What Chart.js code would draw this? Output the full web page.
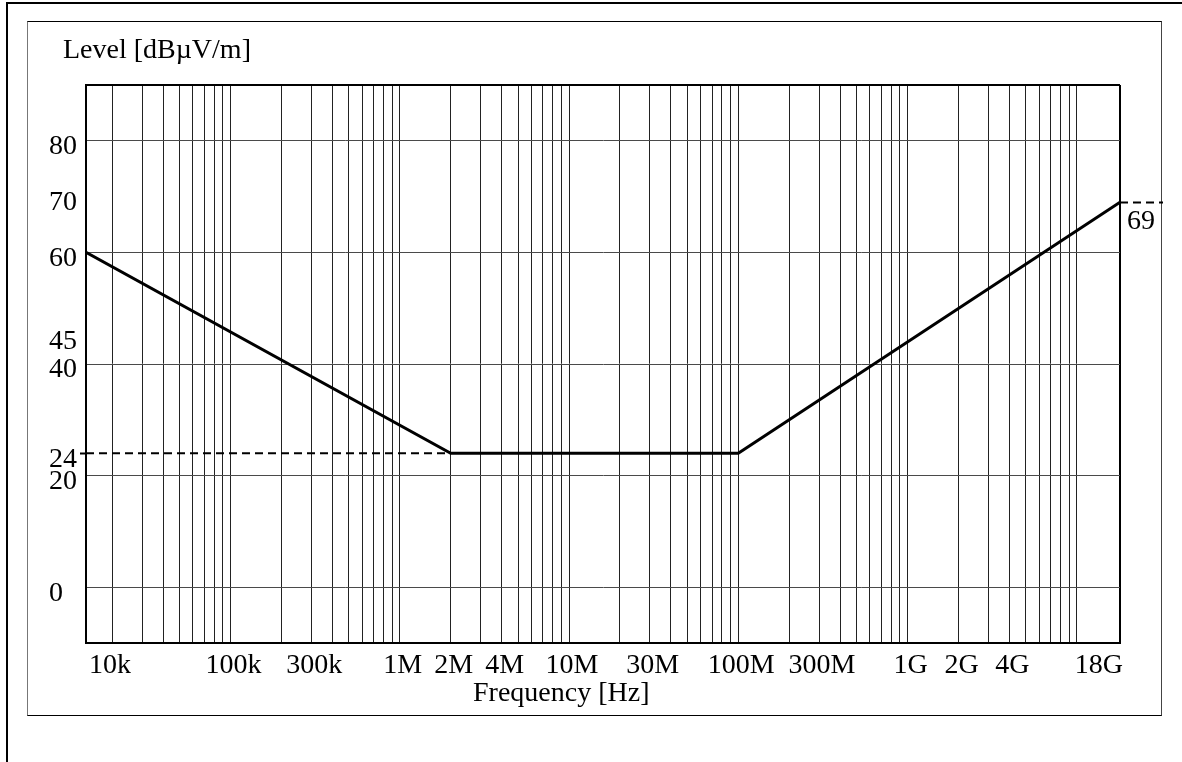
<!DOCTYPE html>
<html>
<head>
<meta charset="utf-8">
<script src="https://cdn.jsdelivr.net/npm/chart.js@4.4.1/dist/chart.umd.min.js"></script>
<style>
  html, body { margin: 0; padding: 0; background: #fff; }
  body { width: 1182px; height: 762px; position: relative; overflow: hidden; }
  #outer { position: absolute; left: 6px; top: 2px; width: 3000px; height: 3000px;
           border-left: 2px solid #000; border-top: 2px solid #000; }
  #inner { position: absolute; left: 27px; top: 21px; width: 1133px; height: 693px;
           border-top: 1px solid #000; border-bottom: 1px solid #000;
           border-left: 1px solid #777; border-right: 1px solid #444; }
  #wrap { position: absolute; left: 0; top: 0; width: 1182px; height: 762px; }
</style>
</head>
<body>
<div id="outer"></div>
<div id="inner"></div>
<div id="wrap"><canvas id="c" width="1182" height="762"></canvas></div>
<script>
// ---- data ----
// limit line vertices (frequency in Hz, level in dBµV/m)
const freqs  = [14e3, 2e6, 1e8, 18e9];
const levels = [60, 24, 24, 69];
// dashed leader at 24 dBµV/m (left edge to 2 MHz)
const leaderFreqs  = [14e3, 2e6];
const leaderLevels = [24, 24];

const xRange = [14e3, 18e9];
const yRange = [-10, 90];

// x tick labels and their positions
const xTickValues = [14e3, 1e5, 3e5, 1e6, 2e6, 4e6, 1e7, 3e7, 1e8, 3e8, 1e9, 2e9, 4e9, 18e9];
const xTickLabels = ['10k', '100k', '300k', '1M', '2M', '4M', '10M', '30M', '100M', '300M', '1G', '2G', '4G', '18G'];

// y tick labels
const yTickValues = [80, 70, 60, 45, 40, 24, 20, 0];
const yTickLabels = ['80', '70', '60', '45', '40', '24', '20', '0'];
// horizontal gridlines
const yGridValues = [0, 20, 40, 60, 80];

// right-hand annotation
const rightTickValues = [69];
const rightTickLabels = ['69'];

const yTitle = 'Level [dBµV/m]';
const xTitle = 'Frequency [Hz]';

// ---- chart ----
const FONT = "'Liberation Serif', 'Times New Roman', serif";
Chart.defaults.font.family = FONT;
Chart.defaults.color = '#000';

// vertical gridlines at 1..9 x 10^n inside the range, plus both plot edges
const xGridTicks = (() => {
  const set = new Set([xRange[0], xRange[1]]);
  for (let e = 3; e <= 11; e++) {
    for (let m = 1; m <= 9; m++) {
      const v = m * Math.pow(10, e);
      if (v > xRange[0] && v < xRange[1]) set.add(v);
    }
  }
  xTickValues.forEach(v => set.add(v));
  return Array.from(set).sort((a, b) => a - b);
})();

const yAllTicks = Array.from(new Set([yRange[0], yRange[1], ...yGridValues, ...yTickValues])).sort((a, b) => a - b);

function xLabelFor(v) {
  const i = xTickValues.findIndex(t => Math.abs(t - v) / t < 1e-9);
  return i >= 0 ? xTickLabels[i] : '';
}
function yLabelFor(v) {
  const i = yTickValues.indexOf(v);
  return i >= 0 ? yTickLabels[i] : '';
}

// horizontal placement of the two title blocks
const titleShift = {
  id: 'titleShift',
  afterLayout(chart) {
    const t = chart.titleBlock;
    if (t) { t.left = 63; }
    const s = chart.boxes.find(b => b !== t && b.options && b.options.text === xTitle);
    if (s) { s.left = 473; }
  }
};

new Chart(document.getElementById('c'), {
  type: 'line',
  data: {
    datasets: [
      {
        label: 'Limit',
        data: freqs.map((f, i) => ({ x: f, y: levels[i] })),
        borderColor: '#000',
        borderWidth: 3,
        pointRadius: 0,
        tension: 0,
        fill: false,
        xAxisID: 'x',
        yAxisID: 'y'
      },
      {
        label: '24 leader',
        data: leaderFreqs.map((f, i) => ({ x: f, y: leaderLevels[i] })),
        borderColor: '#000',
        borderWidth: 2,
        borderDash: [8, 5],
        pointRadius: 0,
        fill: false,
        xAxisID: 'x',
        yAxisID: 'y'
      }
    ]
  },
  options: {
    responsive: false,
    animation: false,
    events: [],
    layout: { padding: { left: 49, right: 0, top: 0, bottom: 54 } },
    plugins: {
      legend: { display: false },
      tooltip: { enabled: false },
      title: {
        display: true,
        text: yTitle,
        align: 'start',
        color: '#000',
        font: { family: FONT, size: 28, weight: 'normal', lineHeight: 1 },
        padding: { top: 37, bottom: 20 }
      },
      subtitle: {
        display: true,
        position: 'bottom',
        text: xTitle,
        align: 'start',
        color: '#000',
        font: { family: FONT, size: 28, weight: 'normal', lineHeight: 1 },
        padding: { top: 0, bottom: 0 }
      }
    },
    scales: {
      x: {
        type: 'logarithmic',
        position: 'bottom',
        min: xRange[0],
        max: xRange[1],
        afterBuildTicks: s => { s.ticks = xGridTicks.map(v => ({ value: v })); },
        afterFit: s => { s.height = 37; },
        border: { display: true, color: '#000', width: 2 },
        grid: {
          drawTicks: false,
          color: c => (c.tick && c.tick.value === xRange[1]) ? '#000' : '#222',
          lineWidth: c => (c.tick && c.tick.value === xRange[1]) ? 2 : 1
        },
        ticks: {
          autoSkip: false,
          maxRotation: 0,
          minRotation: 0,
          align: 'inner',
          labelOffset: 3,
          padding: 9,
          color: '#000',
          font: { family: FONT, size: 28, lineHeight: 1 },
          callback: v => xLabelFor(v)
        }
      },
      y: {
        type: 'linear',
        position: 'left',
        min: yRange[0],
        max: yRange[1],
        afterBuildTicks: s => { s.ticks = yAllTicks.map(v => ({ value: v })); },
        afterFit: s => { s.width = 37; },
        border: { display: true, color: '#000', width: 2 },
        grid: {
          drawTicks: true,
          tickLength: 6,
          tickWidth: 2,
          tickBorderDash: [8, 5],
          tickColor: c => (c.tick && c.tick.value === 24) ? '#000' : 'rgba(0,0,0,0)',
          color: c => {
            if (!c.tick) return 'rgba(0,0,0,0)';
            const v = c.tick.value;
            if (v === yRange[1]) return '#000';
            if (v === yRange[0]) return 'rgba(0,0,0,0)';
            return yGridValues.includes(v) ? '#4a4a4a' : 'rgba(0,0,0,0)';
          },
          lineWidth: c => (c.tick && c.tick.value === yRange[1]) ? 2 : 1
        },
        ticks: {
          autoSkip: false,
          crossAlign: 'far',
          labelOffset: 6,
          color: '#000',
          font: { family: FONT, size: 28, lineHeight: 1 },
          callback: v => yLabelFor(v)
        }
      },
      y2: {
        type: 'linear',
        position: 'right',
        min: yRange[0],
        max: yRange[1],
        afterBuildTicks: s => { s.ticks = rightTickValues.map(v => ({ value: v })); },
        afterFit: s => { s.width = 62; },
        border: { display: false },
        grid: {
          drawOnChartArea: false,
          drawTicks: true,
          tickLength: 43,
          tickWidth: 2,
          tickColor: '#000',
          tickBorderDash: [8, 5]
        },
        ticks: {
          autoSkip: false,
          padding: -36,
          labelOffset: 19,
          color: '#000',
          font: { family: FONT, size: 28, lineHeight: 1 },
          callback: v => {
            const i = rightTickValues.indexOf(v);
            return i >= 0 ? rightTickLabels[i] : '';
          }
        }
      }
    }
  },
  plugins: [titleShift]
});
</script>
</body>
</html>
